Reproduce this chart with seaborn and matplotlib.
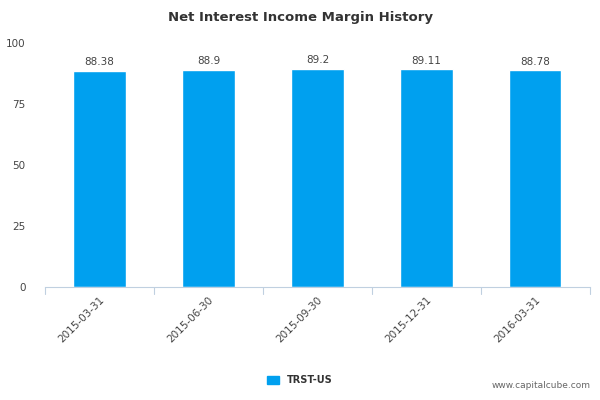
import matplotlib
matplotlib.use("Agg")
import matplotlib.pyplot as plt
import matplotlib.patches as mpatches
import seaborn as sns
import pandas as pd

categories = ["2015-03-31", "2015-06-30", "2015-09-30", "2015-12-31", "2016-03-31"]
values = [88.38, 88.9, 89.2, 89.11, 88.78]
labels = ["88.38", "88.9", "89.2", "89.11", "88.78"]
series = "TRST-US"
color = "#00A0EF"

sns.set_style("white")
plt.rcParams['font.family'] = ['DejaVu Sans']
df = pd.DataFrame({"date": categories, "value": values})

fig = plt.figure(figsize=(6, 4), dpi=100)
ax = fig.add_axes([0.075, 0.283, 0.908, 0.61])
sns.barplot(data=df, x="date", y="value", color=color, width=0.48, ax=ax, saturation=1)
for i, (v, t) in enumerate(zip(values, labels)):
    ax.text(i, v + 1.5, t, ha="center", va="bottom", fontsize=7.5, color="#444444")
ax.set_ylim(0, 100)
ax.set_xlim(-0.5, 4.5)
ax.set_yticks([0, 25, 50, 75, 100])
ax.tick_params(axis="y", labelsize=7.5, colors="#444444", length=0, pad=14)
ax.tick_params(axis="x", labelsize=7.5, colors="#444444", length=0, pad=6)
plt.setp(ax.get_xticklabels(), rotation=45, ha="right", rotation_mode="anchor")
ax.set_xlabel(""); ax.set_ylabel("")
for s in ["top", "right", "left"]:
    ax.spines[s].set_visible(False)
ax.spines["bottom"].set_color("#C0D0E0")
for xb in [-0.5, 0.5, 1.5, 2.5, 3.5, 4.5]:
    ax.plot([xb, xb], [0, -3], color="#C0D0E0", lw=0.8, clip_on=False)
fig.text(0.5, 0.955, "Net Interest Income Margin History", ha="center", va="center",
         fontsize=9.5, fontweight="bold", color="#333333")
handle = mpatches.Patch(color=color, label=series)
leg = fig.legend(handles=[handle], loc="center", bbox_to_anchor=(0.5, 0.05), frameon=False,
                 fontsize=7, handlelength=1.2, handleheight=0.9)
for t in leg.get_texts():
    t.set_fontweight("bold"); t.set_color("#333333")
fig.text(0.985, 0.03, "www.capitalcube.com", ha="right", fontsize=6.5, color="#666666")
fig.savefig("out.png", dpi=100)
